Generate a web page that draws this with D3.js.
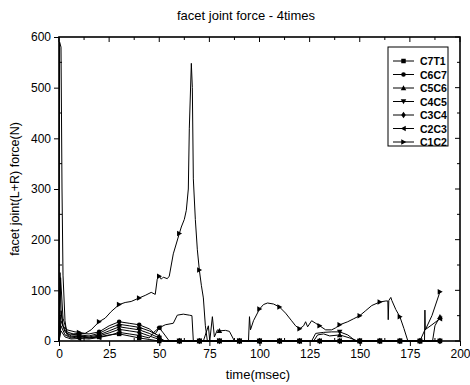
<!DOCTYPE html>
<html>
<head>
<meta charset="utf-8">
<script src="https://cdn.jsdelivr.net/npm/d3@7"></script>
<style>
  body { margin: 0; background: #fff; }
  text { font-family: "Liberation Sans", Arial, sans-serif; fill: #000; }
</style>
</head>
<body>
<svg id="chart" width="470" height="385"></svg>
<script>
// legenda e dados (tempo em ms, força em N)
const seriesNames = ["C7T1", "C6C7", "C5C6", "C4C5", "C3C4", "C2C3", "C1C2"];
const markerTypes = ["square", "circle", "triangle", "triangleDown", "diamond", "triangleLeft", "triangleRight"];
const xTicks = [0, 25, 50, 75, 100, 125, 150, 175, 200];
const yTicks = [0, 100, 200, 300, 400, 500, 600];

const c7t1 = [[0,0],[0.3,590],[1,580],[1.5,300],[2,130],[3,40],[4,12],[6,8],[10,10],[15,6],[20,8],[25,12],[30,14],[35,10],[40,6],[45,3],[50,0],[60,0],[70,0],[80,0],[90,0],[100,0],[110,0],[120,0],[130,0],[140,0],[150,0],[160,0],[170,0],[180,0],[190,0]];
const c6c7 = [[0,0],[0.8,125],[2,45],[4,18],[7,14],[10,15],[15,14],[20,18],[25,30],[30,38],[35,35],[40,32],[45,24],[48,14],[50,26],[53,32],[57,35],[59,51],[62,53],[65,51],[66.3,50],[67,0],[70,0],[80,0],[90,0],[100,0],[110,0],[120,0],[130,0],[140,0],[150,0],[160,0],[170,0],[180,0],[190,0]];
const c5c6 = [[0,0],[1,60],[2,30],[4,14],[10,12],[15,10],[20,15],[25,25],[30,33],[35,30],[40,27],[45,20],[50,10],[52,0],[60,0],[70,0],[72,0],[74.5,30],[75.2,0],[76.5,48],[77.5,8],[79,22],[80,20],[83,21],[85,19],[87.5,0],[90,0],[100,0],[110,0],[120,0],[127,0],[129,12],[132,14],[135,10],[140,12],[145,6],[149,0],[150,0],[160,0],[170,0],[180,0],[186.3,0],[187.5,30],[190,48],[190.5,50]];
const c4c5 = [[0,0],[1,40],[3,18],[6,10],[10,10],[15,8],[20,12],[25,20],[30,28],[35,25],[40,22],[45,15],[50,6],[53,0],[60,0],[70,0],[80,0],[90,0],[100,0],[110,0],[120,0],[126,0],[128,15],[132,17],[136,18],[140,18],[144,12],[148,0],[150,0],[160,0],[170,0],[180,0],[190,0]];
const c3c4 = [[0,0],[1,30],[3,12],[6,6],[10,8],[15,6],[20,10],[25,16],[30,23],[35,20],[40,17],[45,10],[50,3],[52,0],[60,0],[70,0],[80,0],[90,0],[100,0],[110,0],[120,0],[130,0],[140,0],[150,0],[160,0],[170,0],[180,0],[190,0]];
const c2c3 = [[0,0],[1,20],[3,8],[6,4],[10,5],[15,4],[20,7],[25,11],[30,17],[35,14],[40,11],[45,6],[48,20],[50,26],[52,16],[55,0],[60,0],[70,0],[80,0],[90,0],[100,0],[110,0],[120,0],[130,0],[140,0],[150,0],[160,0],[170,0],[180,0],[182.5,22],[186,32],[190,44],[190.5,46]];
const c1c2 = [[0,0],[0.5,135],[1,60],[2,30],[4,22],[6,20],[8,18],[10,17],[13,15],[16,22],[20,38],[23,45],[26,58],[30,72],[33,76],[36,78],[40,85],[43,90],[46,96],[48,92],[49,122],[50,128],[51,122],[52,126],[54,123],[55,128],[57,172],[60,212],[61,225],[62.5,240],[63.5,258],[64.5,300],[65,420],[66,548],[66.5,500],[67,320],[68,240],[69,180],[70,140],[71,110],[72,85],[73,30],[74,0],[80,0],[90,0],[94.5,0],[95,48],[95.5,22],[97,40],[100,63],[102,72],[104,75],[107,73],[110,67],[113,55],[116,40],[118,30],[120,24],[122,30],[123,38],[124,28],[126,40],[128,35],[130,30],[133,22],[136,22],[138,26],[140,32],[144,38],[147,44],[150,50],[153,60],[156,70],[160,77],[163,79],[164,79],[164.2,42],[164.5,80],[165.5,86],[166,80],[168,62],[170,48],[172,25],[174,0],[182.3,0],[182.5,61],[182.7,22],[186,50],[190,97]];
const seriesData = [c7t1, c6c7, c5c6, c4c5, c3c4, c2c3, c1c2];

const svg = d3.select("#chart");
const x = d3.scaleLinear().domain([0, 200]).range([59, 460]);
const y = d3.scaleLinear().domain([0, 600]).range([341, 37]);

// titulo
svg.append("text").attr("x", 246).attr("y", 20).attr("text-anchor", "middle")
  .style("font-size", "13px").text("facet joint force - 4times");

// eixos principais
svg.append("g").attr("transform", "translate(0,341)")
  .call(d3.axisBottom(x).tickValues(xTicks).tickSize(5).tickPadding(3))
  .call(g => g.select(".domain").remove())
  .call(g => g.selectAll("text").style("font-size", "12px"));
svg.append("g").attr("transform", "translate(59,0)")
  .call(d3.axisLeft(y).tickValues(yTicks).tickSize(5).tickPadding(3))
  .call(g => g.select(".domain").remove())
  .call(g => g.selectAll("text").style("font-size", "12px"));

// ticks menores (para dentro)
const minorX = d3.range(12.5, 200, 25);
const minorY = d3.range(50, 600, 100);
svg.append("g").selectAll("line").data(minorX).join("line")
  .attr("x1", d => x(d)).attr("x2", d => x(d)).attr("y1", 341).attr("y2", 338).attr("stroke", "#000");
svg.append("g").selectAll("line").data(minorY).join("line")
  .attr("x1", 59).attr("x2", 62).attr("y1", d => y(d)).attr("y2", d => y(d)).attr("stroke", "#000");
svg.append("g").selectAll("line").data(yTicks.concat(minorY)).join("line")
  .attr("x1", 460).attr("x2", d => yTicks.includes(d) ? 455 : 457).attr("y1", d => y(d)).attr("y2", d => y(d)).attr("stroke", "#000");
svg.append("g").selectAll("line").data(xTicks.concat(minorX)).join("line")
  .attr("x1", d => x(d)).attr("x2", d => x(d)).attr("y1", 37).attr("y2", d => xTicks.includes(d) ? 42 : 40).attr("stroke", "#000");

// moldura
svg.append("rect").attr("x", 59).attr("y", 37).attr("width", 401).attr("height", 304)
  .attr("fill", "none").attr("stroke", "#000").attr("stroke-width", 1.6);

// rotulos dos eixos
svg.append("text").attr("x", 258).attr("y", 379).attr("text-anchor", "middle")
  .style("font-size", "13px").text("time(msec)");
svg.append("text").attr("transform", "translate(19,189) rotate(-90)").attr("text-anchor", "middle")
  .style("font-size", "12.5px").text("facet joint(L+R) force(N)");

// simbolos
function markerPath(type, s) {
  const h = s / 2;
  switch (type) {
    case "square": return `M${-h},${-h}h${s}v${s}h${-s}Z`;
    case "circle": return d3.symbol(d3.symbolCircle, s * s * 0.8)();
    case "triangle": return `M0,${-h - 0.5}L${h + 0.5},${h}L${-h - 0.5},${h}Z`;
    case "triangleDown": return `M0,${h + 0.5}L${h + 0.5},${-h}L${-h - 0.5},${-h}Z`;
    case "diamond": return `M0,${-h - 1}L${h},0L0,${h + 1}L${-h},0Z`;
    case "triangleLeft": return `M${-h - 0.5},0L${h},${-h - 0.5}L${h},${h + 0.5}Z`;
    case "triangleRight": return `M${h + 0.5},0L${-h},${-h - 0.5}L${-h},${h + 0.5}Z`;
  }
}

const line = d3.line().x(d => x(d[0])).y(d => y(d[1]));
const plot = svg.append("g");
seriesData.forEach((data, i) => {
  plot.append("path").datum(data).attr("d", line)
    .attr("fill", "none").attr("stroke", "#000").attr("stroke-width", 1);
  plot.append("g").selectAll("path")
    .data(data.filter(d => d[0] > 0 && d[0] % 10 === 0))
    .join("path")
    .attr("transform", d => `translate(${x(d[0])},${y(d[1])})`)
    .attr("d", markerPath(markerTypes[i], 4.5))
    .attr("fill", "#000");
});

// legenda
const legend = svg.append("g");
legend.append("rect").attr("x", 388).attr("y", 47).attr("width", 60).attr("height", 99)
  .attr("fill", "#fff").attr("stroke", "#000").attr("stroke-width", 1);
seriesNames.forEach((name, i) => {
  const ly = 61 + i * 13.5;
  legend.append("line").attr("x1", 393).attr("x2", 414).attr("y1", ly).attr("y2", ly)
    .attr("stroke", "#000").attr("stroke-width", 1);
  legend.append("path").attr("transform", `translate(403.5,${ly})`)
    .attr("d", markerPath(markerTypes[i], 4.5)).attr("fill", "#000");
  legend.append("text").attr("x", 420).attr("y", ly + 4)
    .style("font-size", "10.5px").style("font-weight", "bold").text(name);
});
</script>
</body>
</html>
